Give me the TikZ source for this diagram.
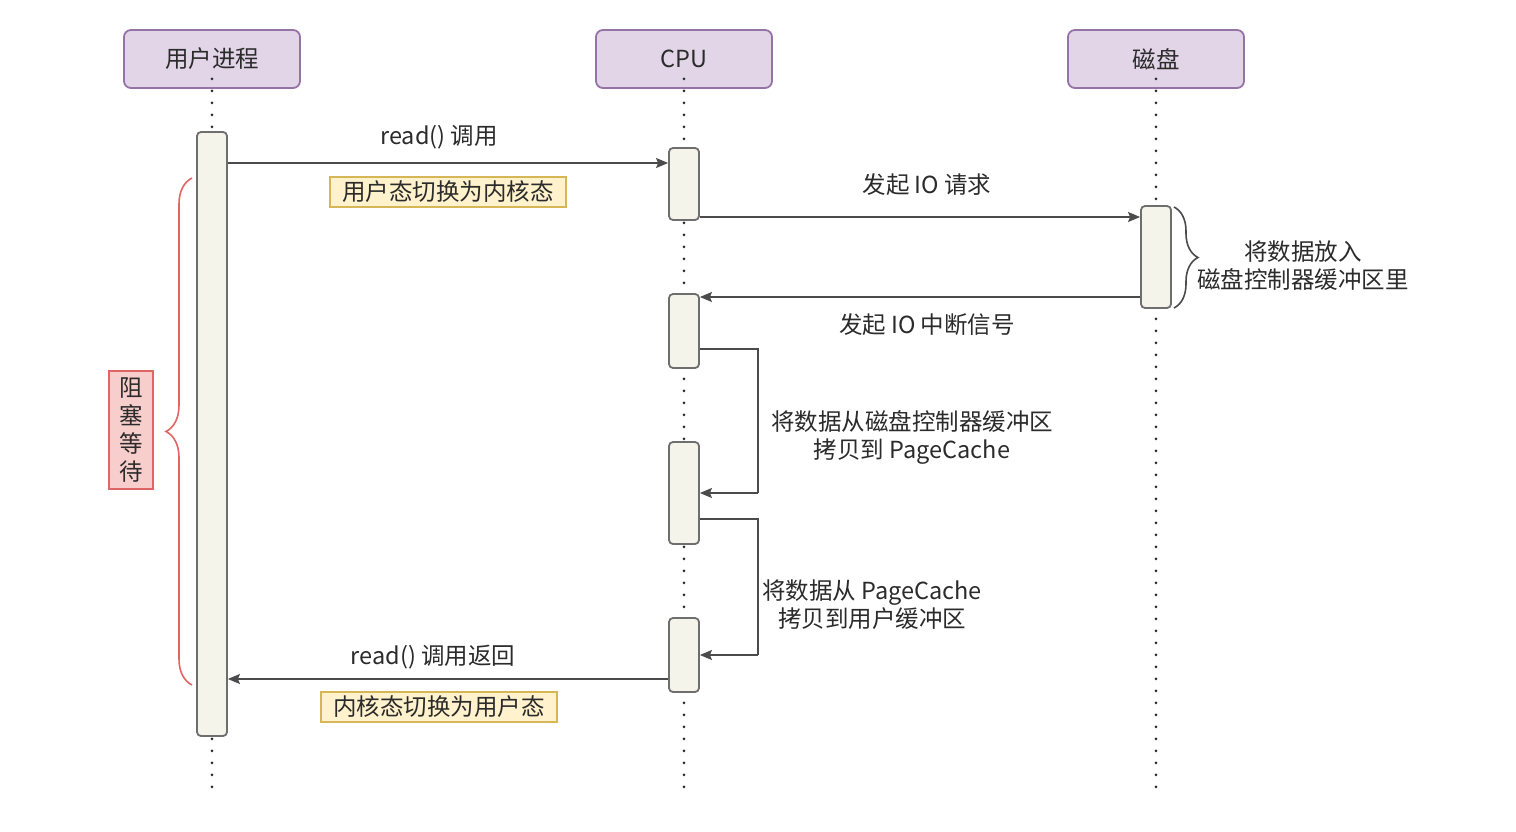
\documentclass[tikz,border=0pt]{standalone}
\usepackage{fontspec}
\setmainfont{Noto Sans CJK SC}
\usetikzlibrary{arrows.meta,decorations.pathreplacing}
\definecolor{hdrfill}{HTML}{E1D5E7}
\definecolor{hdrdraw}{HTML}{9673A6}
\definecolor{barfill}{HTML}{F5F4EA}
\definecolor{bardraw}{HTML}{6E6E6E}
\definecolor{notefill}{HTML}{FFF2CC}
\definecolor{notedraw}{HTML}{D6B656}
\definecolor{redfill}{HTML}{F8CECC}
\definecolor{reddraw}{HTML}{E06666}
\definecolor{ink}{HTML}{2B2B2B}
\begin{document}
\begin{tikzpicture}[x=1pt,y=-1pt,
  every node/.style={font=\fontsize{23.5}{28}\selectfont, text=ink},
  hdr/.style={draw=hdrdraw, fill=hdrfill, line width=1.8, rounded corners=7, minimum width=176, minimum height=58},
  bar/.style={draw=bardraw, fill=barfill, line width=1.8, rounded corners=4, minimum width=30},
  life/.style={draw=ink, line width=3, line cap=round, dash pattern=on 0pt off 12pt},
  msg/.style={draw=ink!85, line width=1.6, -{Stealth[length=12,width=10,inset=2]}},
  loopln/.style={draw=ink!85, line width=1.6},
  note/.style={draw=notedraw, fill=notefill, line width=1.4, minimum width=236, minimum height=30, inner sep=0pt},
  lbl/.style={align=center, inner sep=0pt}
]
\useasboundingbox (0,0) rectangle (1516,832);
\fill[white] (0,0) rectangle (1516,832);

% headers
\node[hdr] (hu) at (212,59) {用户进程};
\node[hdr] (hc) at (684,59) {CPU};
\node[hdr] (hd) at (1156,59) {磁盘};

% lifelines
\coordinate (eu) at (212,795);
\coordinate (ec) at (684,790);
\coordinate (ed) at (1156,790);
\draw[life] ([yshift=10]hu.south) -- (eu);
\draw[life] ([yshift=10]hc.south) -- (ec);
\draw[life] ([yshift=10]hd.south) -- (ed);

% activation bars
\node[bar, minimum height=604] (u)  at (212,434) {};
\node[bar, minimum height=72]  (c1) at (684,184) {};
\node[bar, minimum height=102] (d1) at (1156,257) {};
\node[bar, minimum height=74]  (c2) at (684,331) {};
\node[bar, minimum height=102] (c3) at (684,493) {};
\node[bar, minimum height=74]  (c4) at (684,655) {};

% read() call
\draw[msg] (u.east |- 0,163) -- (c1.west |- 0,163);
\node[lbl] (l1) at (439,137) {read() 调用};
\node[note] (n1) at (448,192) {用户态切换为内核态};

% IO request
\draw[msg] (c1.east |- 0,217) -- (d1.west |- 0,217);
\node[lbl] (l2) at (927,185) {发起 IO 请求};

% disk brace
\draw[ink!85, line width=1.6, decorate, decoration={brace, amplitude=24, aspect=0.5}]
  (1174,207) -- (1174,308);
\node[lbl] (l3) at (1303,266) {将数据放入\\磁盘控制器缓冲区里};

% interrupt
\draw[msg] (d1.west |- 0,297) -- (c2.east |- 0,297);
\node[lbl] (l4) at (927,325) {发起 IO 中断信号};

% self loop 1
\coordinate (k1) at (758,349);
\coordinate (k2) at (758,493);
\draw[loopln] (c2.east |- k1) -- (k1) -- (k2);
\draw[msg] (k2) -- (c3.east |- k2);
\node[lbl] (l5) at (912,437) {将数据从磁盘控制器缓冲区\\拷贝到 PageCache};

% self loop 2
\coordinate (k3) at (758,519);
\coordinate (k4) at (758,655);
\draw[loopln] (c3.east |- k3) -- (k3) -- (k4);
\draw[msg] (k4) -- (c4.east |- k4);
\node[lbl] (l6) at (872,605) {将数据从 PageCache\\拷贝到用户缓冲区};

% return
\draw[msg] (c4.west |- 0,679) -- (u.east |- 0,679);
\node[lbl] (l7) at (433,657) {read() 调用返回};
\node[note] (n2) at (439,707) {内核态切换为用户态};

% red brace and blocking label
\draw[reddraw, line width=1.6, decorate, decoration={brace, amplitude=26, aspect=0.5}]
  (192,685) -- (192,178);
\node[draw=reddraw, fill=redfill, line width=1.4, minimum width=44, minimum height=118, align=center, inner sep=0pt,
  font=\fontsize{23.5}{28}\selectfont] (blk) at (131,430) {阻\\塞\\等\\待};
\end{tikzpicture}
\end{document}
